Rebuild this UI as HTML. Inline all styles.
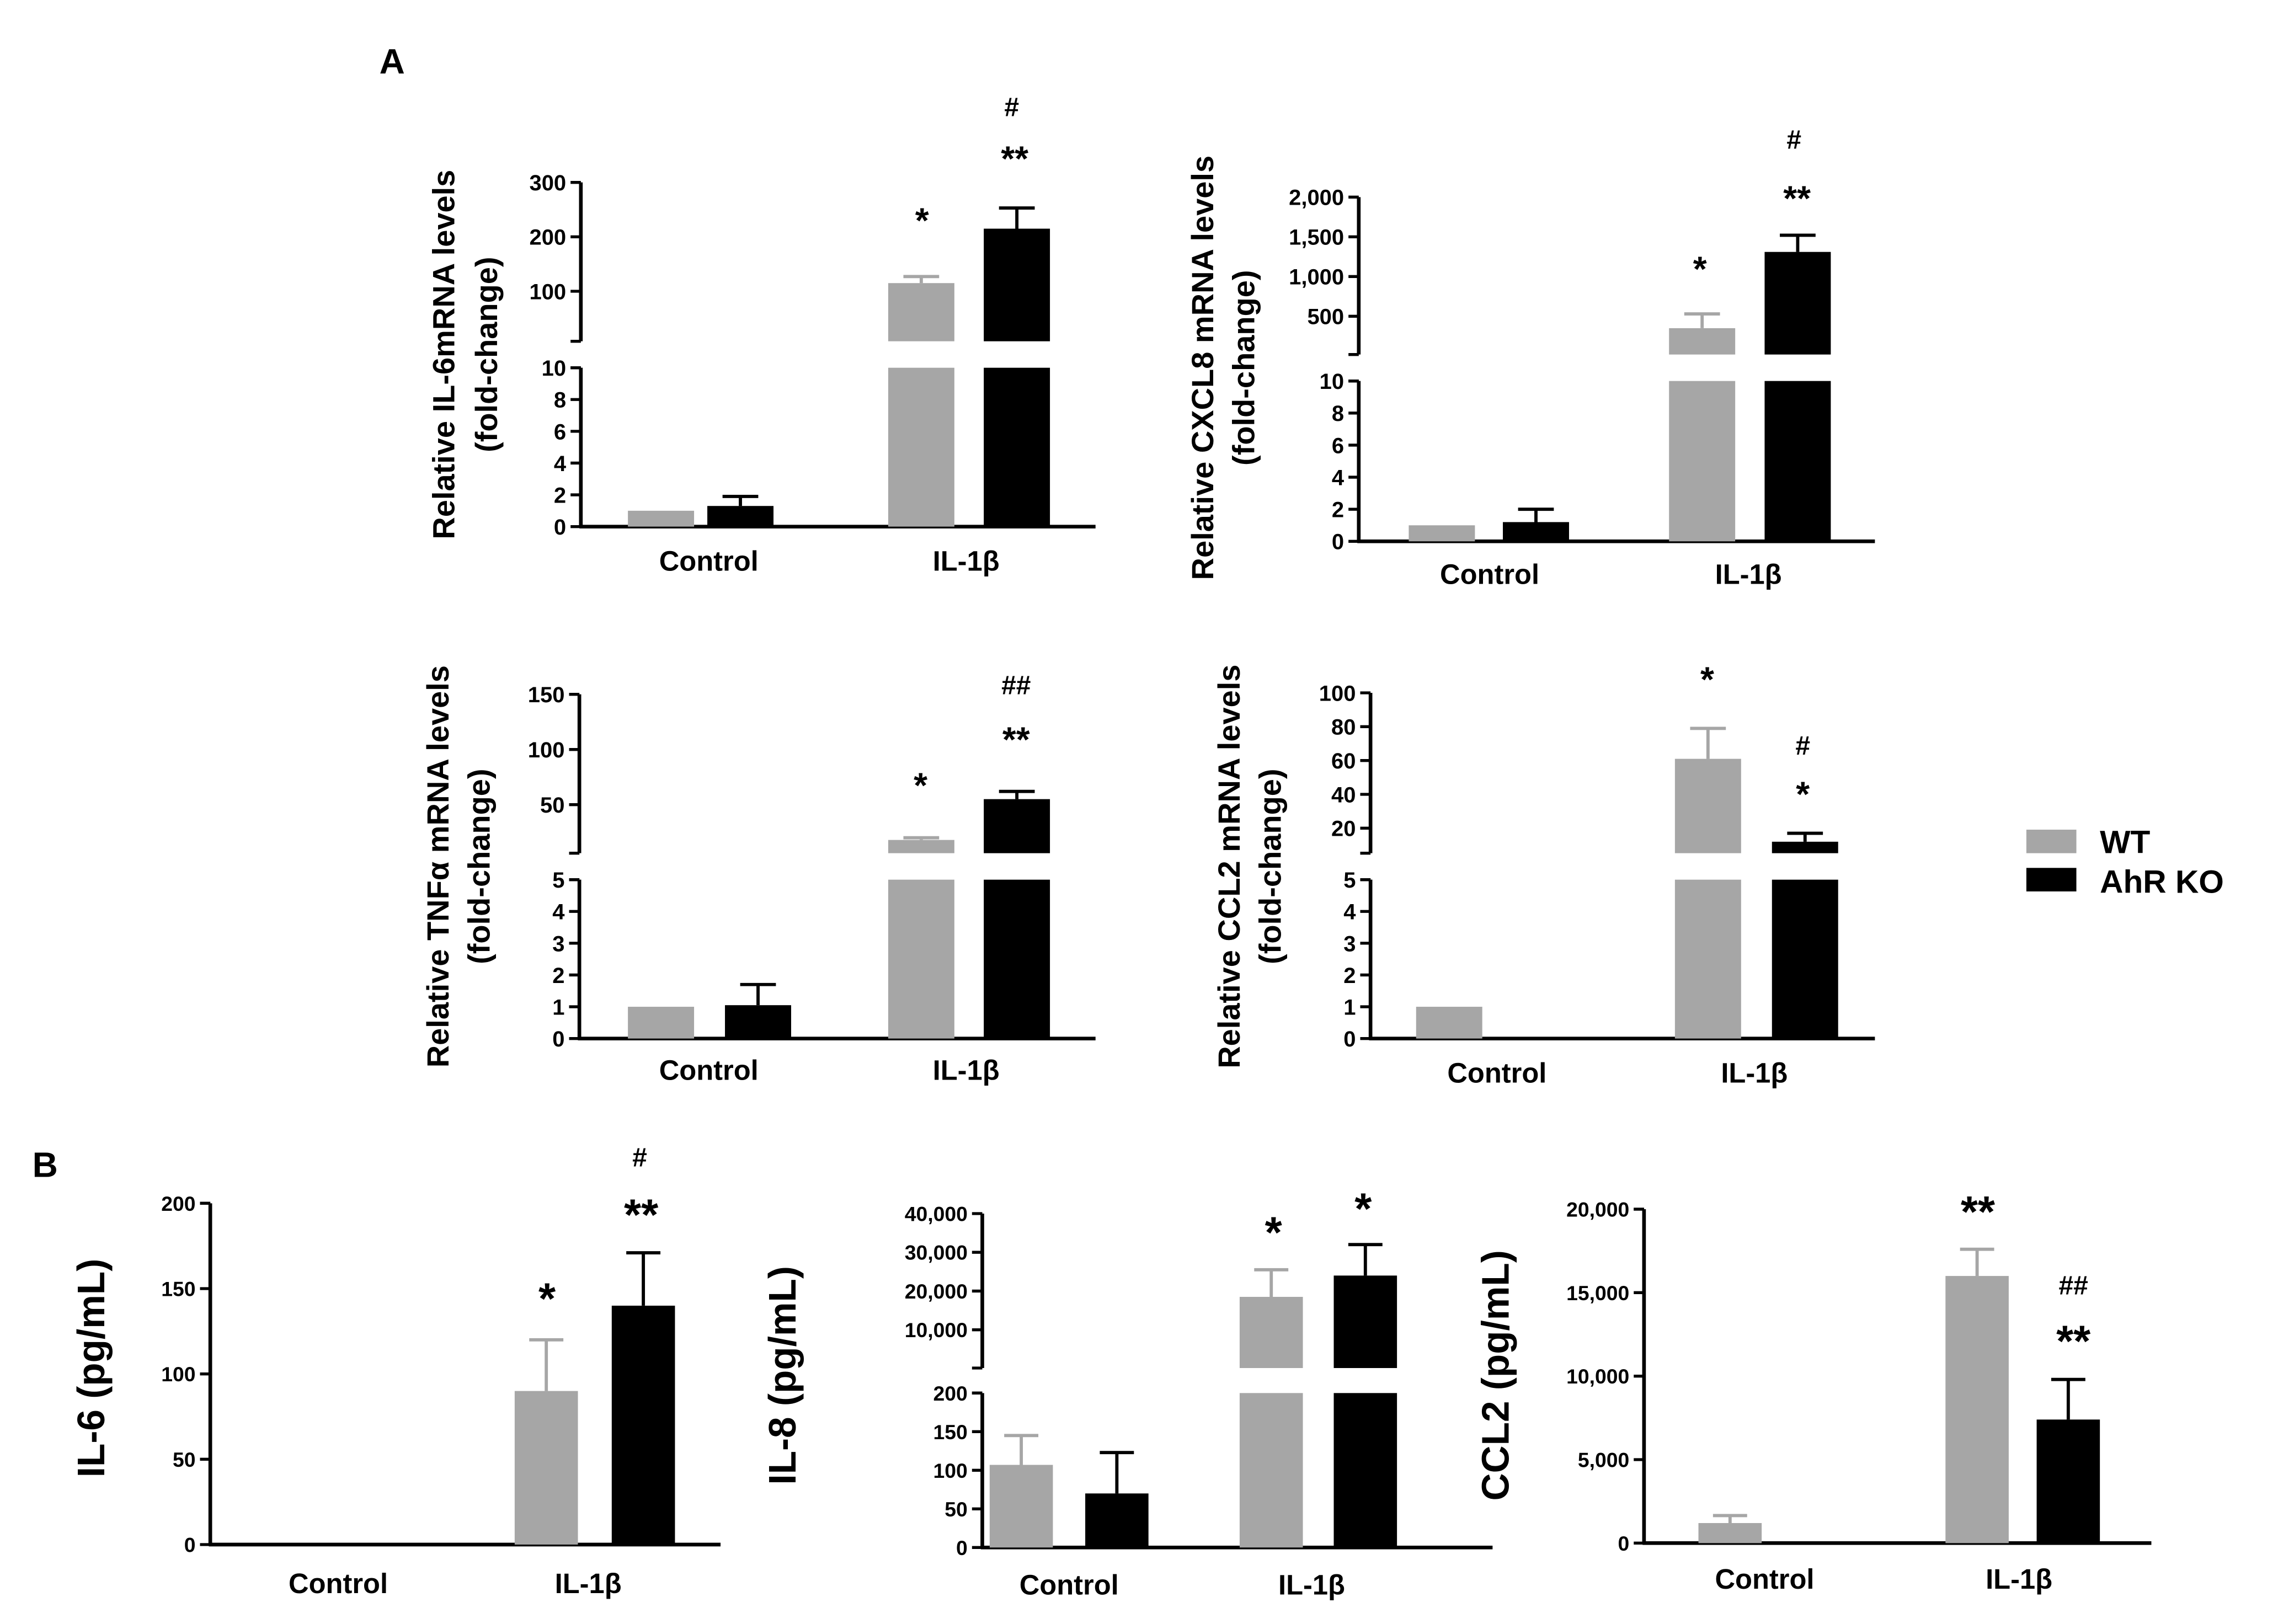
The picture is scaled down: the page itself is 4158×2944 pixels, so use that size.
<!DOCTYPE html>
<html><head><meta charset="utf-8"><style>
html,body{margin:0;padding:0;background:#fff}
svg{display:block}
text{font-family:"Liberation Sans",Arial,sans-serif;font-weight:bold;fill:#000}
</style></head><body>
<svg id="fig" xmlns="http://www.w3.org/2000/svg" width="4158" height="2944" viewBox="0 0 1560 1104" preserveAspectRatio="none">
<text x="258" y="50" font-size="24">A</text>
<text x="22" y="800" font-size="24">B</text>
<g>
<rect x="1378" y="564" width="34" height="16" fill="#a6a6a6"/>
<text x="1428" y="580" font-size="22">WT</text>
<rect x="1378" y="590" width="34" height="16" fill="#000"/>
<text x="1428" y="607" font-size="22">AhR KO</text>
</g>
</svg>
<script>
// ---- data ----
const groups = ["Control", "IL-1β"];
const il6mValues = [1, 1.3, 115, 215];
const il6mErrors = [null, 1.9, 127, 253];
const il6mUpperTicks = [100, 200, 300];
const il6mLowerTicks = [0, 2, 4, 6, 8, 10];
const cxclValues = [1, 1.2, 350, 1310];
const cxclErrors = [null, 2.0, 530, 1520];
const cxclUpperTicks = [500, 1000, 1500, 2000];
const cxclLowerTicks = [0, 2, 4, 6, 8, 10];
const tnfValues = [1, 1.05, 18, 55];
const tnfErrors = [null, 1.7, 20, 62];
const tnfUpperTicks = [50, 100, 150];
const tnfLowerTicks = [0, 1, 2, 3, 4, 5];
const ccl2mValues = [1, 0.05, 61, 12];
const ccl2mErrors = [null, null, 79, 17];
const ccl2mUpperTicks = [20, 40, 60, 80, 100];
const ccl2mLowerTicks = [0, 1, 2, 3, 4, 5];
const il6pValues = [0, 0, 90, 140];
const il6pErrors = [null, null, 120, 171];
const il6pTicks = [0, 50, 100, 150, 200];
const il8Values = [107, 70, 18500, 24000];
const il8Errors = [145, 123, 25500, 32000];
const il8UpperTicks = [10000, 20000, 30000, 40000];
const il8LowerTicks = [0, 50, 100, 150, 200];
const ccl2pValues = [1200, 50, 16000, 7400];
const ccl2pErrors = [1650, null, 17600, 9800];
const ccl2pTicks = [0, 5000, 10000, 15000, 20000];

const NS = "http://www.w3.org/2000/svg";
const svg = document.getElementById("fig");
function mk(tag, attrs, parent, txt) {
  const e = document.createElementNS(NS, tag);
  for (const k in attrs) e.setAttribute(k, attrs[k]);
  if (txt !== undefined) e.textContent = txt;
  parent.appendChild(e);
  return e;
}
function fmt(v) { return v.toLocaleString("en-US"); }

function panel(c) {
  const g = mk("g", {}, svg);
  
  
  const L = c.lower, U = c.upper;
  const yL = v => L.y0 + (v - L.v0) * (L.y1 - L.y0) / (L.v1 - L.v0);
  const yU = U ? (v => U.y0 + (v - U.v0) * (U.y1 - U.y0) / (U.v1 - U.v0)) : null;
  const lowMax = L.max;
  const ax = c.axisX, fs = c.fs;
  const axisL = mk("line", {x1: ax, y1: yL(0), x2: ax, y2: L.top, stroke: "#000", "stroke-width": 2.5}, g);
  
  
  const xa = mk("line", {x1: ax - 1, y1: yL(0), x2: c.xEnd, y2: yL(0), stroke: "#000", "stroke-width": 2.5}, g);
  
  
  L.ticks.forEach(t => {
    const y = yL(t);
    mk("line", {x1: ax - 7, y1: y, x2: ax, y2: y, stroke: "#000", "stroke-width": 2}, g);
    const tl = mk("text", {x: ax - 10, y: y + fs * 0.36, "font-size": fs, "text-anchor": "end"}, g, fmt(t));
    
    
  });
  mk("line", {x1: ax - 7, y1: L.top, x2: ax, y2: L.top, stroke: "#000", "stroke-width": 2}, g);
  if (U) {
    const au = mk("line", {x1: ax, y1: U.bot, x2: ax, y2: U.top, stroke: "#000", "stroke-width": 2.5}, g);
    
    
    mk("line", {x1: ax - 7, y1: U.bot, x2: ax, y2: U.bot, stroke: "#000", "stroke-width": 2}, g);
    U.ticks.forEach(t => {
      const y = yU(t);
      mk("line", {x1: ax - 7, y1: y, x2: ax, y2: y, stroke: "#000", "stroke-width": 2}, g);
      const tl = mk("text", {x: ax - 10, y: y + fs * 0.36, "font-size": fs, "text-anchor": "end"}, g, fmt(t));
      
      
    });
  }
  c.values.forEach((v, i) => {
    const x = c.barX[i], w = c.barW;
    const col = i % 2 === 0 ? "#a6a6a6" : "#000";
    let topY;
    if (U && v > lowMax) {
      const r1 = mk("rect", {x: x, y: L.top, width: w, height: yL(0) - L.top, fill: col}, g);
      
      
      topY = yU(v);
      const r2 = mk("rect", {x: x, y: topY, width: w, height: U.bot - topY, fill: col}, g);
      
      
    } else {
      topY = yL(v);
      const r = mk("rect", {x: x, y: topY, width: w, height: Math.max(0, yL(0) - topY), fill: col}, g);
      
      
    }
    const e = c.errors[i];
    if (e !== null) {
      const ey = (U && e > lowMax) ? yU(e) : yL(e);
      const cx = x + w / 2;
      const el = mk("path", {d: `M${cx},${topY}V${ey}M${cx - w * 0.27},${ey}H${cx + w * 0.27}`, stroke: col, "stroke-width": 2.2, fill: "none"}, g);
      
      
    }
  });
  groups.forEach((s, i) => {
    const t = mk("text", {x: c.labelX[i], y: c.labelY, "font-size": c.xfs, "text-anchor": "middle"}, g, s);
    
    
  });
  c.ann.forEach(a => {
    const t = mk("text", {x: a[0], y: a[1], "font-size": a[3], "text-anchor": "middle"}, g, a[2]);
    
    
  });
  c.title.forEach((s, i) => {
    const tx = c.titleX[i];
    const t = mk("text", {x: tx, y: c.titleY, "font-size": c.tfs, "text-anchor": "middle", transform: `rotate(-90 ${tx} ${c.titleY})`}, g, s);
    
    
  });
}

panel({name: "chart-il6-mrna", axisX: 395, xEnd: 745, fs: 15, xfs: 19, tfs: 21,
  lower: {v0: 0, y0: 358, v1: 10, y1: 250, top: 250, max: 10, ticks: il6mLowerTicks},
  upper: {v0: 100, y0: 198, v1: 300, y1: 124, top: 124, bot: 232, ticks: il6mUpperTicks},
  values: il6mValues, errors: il6mErrors, barX: [427, 481, 604, 669], barW: 45,
  labelX: [482, 657], labelY: 388,
  ann: [[627, 158, "*", 24], [690, 116, "**", 24], [688, 79, "#", 18]],
  title: ["Relative IL-6mRNA levels", "(fold-change)"], titleX: [309, 338], titleY: 241});

panel({name: "chart-cxcl8-mrna", axisX: 924, xEnd: 1275, fs: 15, xfs: 19, tfs: 21,
  lower: {v0: 0, y0: 368, v1: 10, y1: 259, top: 259, max: 10, ticks: cxclLowerTicks},
  upper: {v0: 500, y0: 215, v1: 2000, y1: 134, top: 134, bot: 241, ticks: cxclUpperTicks},
  values: cxclValues, errors: cxclErrors, barX: [958, 1022, 1135, 1200], barW: 45,
  labelX: [1013, 1189], labelY: 397,
  ann: [[1156, 191, "*", 24], [1222, 143, "**", 24], [1220, 101, "#", 18]],
  title: ["Relative CXCL8 mRNA levels", "(fold-change)"], titleX: [825, 853], titleY: 250});

panel({name: "chart-tnfa-mrna", axisX: 394, xEnd: 745, fs: 15, xfs: 19, tfs: 21,
  lower: {v0: 0, y0: 706, v1: 5, y1: 598, top: 598, max: 5, ticks: tnfLowerTicks},
  upper: {v0: 50, y0: 547, v1: 150, y1: 472, top: 472, bot: 580, ticks: tnfUpperTicks},
  values: tnfValues, errors: tnfErrors, barX: [427, 493, 604, 669], barW: 45,
  labelX: [482, 657], labelY: 734,
  ann: [[626, 542, "*", 24], [691, 511, "**", 24], [691, 472, "##", 18]],
  title: ["Relative TNFα mRNA levels", "(fold-change)"], titleX: [305, 333], titleY: 589});

panel({name: "chart-ccl2-mrna", axisX: 932, xEnd: 1275, fs: 15, xfs: 19, tfs: 21,
  lower: {v0: 0, y0: 706, v1: 5, y1: 598, top: 598, max: 5, ticks: ccl2mLowerTicks},
  upper: {v0: 20, y0: 563, v1: 100, y1: 471, top: 471, bot: 580, ticks: ccl2mUpperTicks},
  values: ccl2mValues, errors: ccl2mErrors, barX: [963, 1030, 1139, 1205], barW: 45,
  labelX: [1018, 1193], labelY: 736,
  ann: [[1161, 470, "*", 24], [1226, 513, "#", 18], [1226, 548, "*", 24]],
  title: ["Relative CCL2 mRNA levels", "(fold-change)"], titleX: [843, 871], titleY: 589});

panel({name: "chart-il6-protein", axisX: 143, xEnd: 490, fs: 14, xfs: 19, tfs: 26,
  lower: {v0: 0, y0: 1050, v1: 200, y1: 818, top: 818, max: 1e9, ticks: il6pTicks},
  upper: null,
  values: il6pValues, errors: il6pErrors, barX: [185, 250, 350, 416], barW: 43,
  labelX: [230, 400], labelY: 1083,
  ann: [[372, 893, "*", 30], [436, 836, "**", 30], [435, 793, "#", 18]],
  title: ["IL-6 (pg/mL)"], titleX: [71], titleY: 930});

panel({name: "chart-il8-protein", axisX: 668, xEnd: 1015, fs: 14, xfs: 19, tfs: 26,
  lower: {v0: 0, y0: 1052, v1: 200, y1: 947, top: 947, max: 200, ticks: il8LowerTicks},
  upper: {v0: 10000, y0: 904, v1: 40000, y1: 825, top: 825, bot: 930, ticks: il8UpperTicks},
  values: il8Values, errors: il8Errors, barX: [673, 738, 843, 907], barW: 43,
  labelX: [727, 892], labelY: 1084,
  ann: [[866, 848, "*", 30], [927, 832, "*", 30]],
  title: ["IL-8 (pg/mL)"], titleX: [541], titleY: 935});

panel({name: "chart-ccl2-protein", axisX: 1118, xEnd: 1463, fs: 14, xfs: 19, tfs: 26,
  lower: {v0: 0, y0: 1049, v1: 20000, y1: 822, top: 822, max: 1e9, ticks: ccl2pTicks},
  upper: null,
  values: ccl2pValues, errors: ccl2pErrors, barX: [1155, 1220, 1323, 1385], barW: 43,
  labelX: [1200, 1373], labelY: 1080,
  ann: [[1345, 834, "**", 30], [1410, 880, "##", 18], [1410, 922, "**", 30]],
  title: ["CCL2 (pg/mL)"], titleX: [1026], titleY: 935});
</script>
</body></html>
